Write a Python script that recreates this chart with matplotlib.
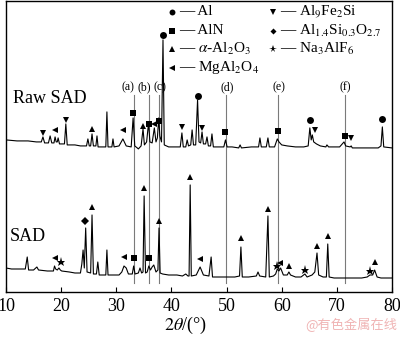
"""XRD patterns of raw SAD and SAD with phase markers."""
import matplotlib

matplotlib.use("Agg")
import matplotlib.pyplot as plt

plt.rcParams["font.family"] = ["Liberation Serif", "DejaVu Serif"]
plt.rcParams["mathtext.fontset"] = "stix"

# Raw SAD trace, read point by point (2theta, intensity in plot units)
raw_x = [10.0, 12.0, 14.0, 15.5, 16.4, 16.7, 17.0, 17.7, 18.0, 18.3, 18.7, 18.9, 19.1, 19.3, 19.45, 19.7,
         20.6, 20.85, 21.1, 22.5, 23.5, 24.6, 24.85, 25.1, 25.35, 25.6, 25.85, 26.3, 26.5, 26.7, 27.5,
         28.1, 28.3, 28.5, 29.2, 29.4, 29.6, 30.5, 31.2, 31.8, 32.7, 33.05, 33.35, 33.8, 34.0, 34.5,
         34.85, 35.1, 35.5, 35.85, 36.1, 36.5, 36.9, 37.2, 37.45, 37.7, 37.9, 38.2, 38.47, 38.7, 39.5,
         41.0, 41.6, 41.9, 42.15, 42.6, 42.85, 43.1, 43.5, 43.75, 44.0, 44.4, 44.74, 45.0, 45.3, 45.55,
         45.8, 46.2, 46.45, 46.7, 47.1, 47.35, 47.6, 48.5, 49.5, 49.8, 50.1, 51.0, 52.2, 52.45, 52.7,
         54.5, 55.8, 56.05, 56.3, 57.2, 57.5, 57.75, 58.7, 59.2, 59.5, 60.0, 61.0, 62.5, 64.0, 64.8,
         65.1, 65.35, 65.55, 65.8, 66.3, 67.0, 68.0, 68.2, 68.5, 70.5, 71.3, 71.6, 72.4, 72.6, 72.8,
         75.0, 77.5, 78.0, 78.25, 78.5, 80.0]
raw_y = [152, 151, 151, 150, 150, 155, 149, 149, 156, 149, 149, 155, 150, 150, 154, 148,
         148, 168, 147, 147, 146, 146, 153, 146, 146, 158, 146, 146, 156, 145, 145,
         145, 180, 145, 145, 153, 145, 146, 153, 146, 145, 174, 146, 144, 143, 146,
         163, 147, 150, 169, 150, 149, 164, 150, 154, 174, 156, 150, 252, 147, 145,
         145, 145, 159, 145, 145, 152, 146, 147, 162, 147, 147, 192, 150, 149, 160,
         148, 148, 155, 146, 146, 158, 145, 145, 145, 152, 145, 145, 144, 147, 144,
         145, 145, 154, 145, 145, 154, 145, 145, 153, 150, 147, 146, 145, 145, 146,
         164, 152, 157, 150, 148, 146, 145, 147, 145, 145, 150, 146, 145, 146, 144,
         144, 144, 146, 165, 145, 144]

# SAD trace
sad_x = [10.0, 11.0, 12.0, 13.5, 13.85, 14.1, 15.0, 15.6, 15.9, 17.5, 18.6, 18.8, 19.0, 19.3, 19.6,
         19.85, 20.1, 21.5, 22.5, 23.5, 23.75, 23.98, 24.2, 24.45, 24.7, 25.35, 25.6, 25.85, 26.4,
         26.65, 26.9, 27.8, 28.1, 28.3, 28.5, 29.5, 30.5, 31.0, 31.4, 31.8, 32.2, 32.9, 33.15, 33.4,
         34.0, 34.3, 34.6, 34.85, 35.05, 35.3, 35.6, 35.9, 36.2, 36.5, 36.8, 37.2, 37.55, 37.75, 37.95,
         38.4, 39.5, 41.0, 42.0, 42.6, 43.0, 43.2, 43.4, 43.6, 44.5, 45.2, 45.8, 46.8, 47.2, 47.45,
         49.0, 50.5, 51.5, 52.35, 52.6, 52.85, 54.0, 55.4, 55.7, 56.0, 57.1, 57.5, 57.75, 58.5, 58.9,
         59.2, 59.5, 59.8, 60.3, 61.0, 61.3, 61.6, 62.5, 63.5, 64.2, 64.6, 65.5, 66.0, 66.4, 66.7,
         67.5, 68.1, 68.35, 68.6, 69.5, 72.0, 74.5, 75.5, 76.0, 76.5, 76.85, 77.3, 78.0, 80.0]
sad_y = [24, 23, 23, 23, 35, 22, 22, 25, 22, 21, 21, 26, 23, 22, 24,
         22, 21, 20, 19, 19, 28, 42, 24, 64, 20, 19, 77, 18, 18,
         30, 17, 17, 17, 42, 17, 17, 17, 20, 26, 24, 18, 18, 26, 18,
         19, 24, 19, 20, 96, 19, 20, 26, 22, 25, 27, 20, 22, 64, 19,
         18, 17, 17, 16, 18, 16, 16, 107, 16, 17, 25, 17, 16, 35, 15,
         15, 15, 15, 16, 45, 15, 15, 16, 20, 16, 15, 76, 15, 16, 18,
         23, 21, 24, 17, 17, 20, 17, 15, 15, 18, 15, 17, 20, 39, 17,
         15, 15, 48, 15, 14, 14, 14, 15, 17, 17, 22, 15, 14, 14]

# phase markers: (2theta, height)
raw_al = [(38.47, 257), (44.74, 196), (65.1, 172), (78.25, 173)]
raw_aln = [(33.1, 179), (36.0, 168), (37.75, 171), (49.8, 160), (59.3, 161), (71.4, 156)]
raw_al2o3 = [(25.6, 163), (34.85, 166)]
raw_spinel = [(18.9, 162), (31.2, 162), (36.9, 168)]
raw_fe = [(16.7, 159), (20.85, 172), (41.9, 165), (45.55, 164), (66.1, 162), (72.6, 154)]

sad_al2o3 = [(25.6, 85), (35.05, 104), (37.75, 71), (43.4, 115), (52.6, 54), (57.5, 83),
             (61.3, 26), (66.4, 46), (68.4, 56), (76.9, 30)]
sad_aln = [(33.2, 34), (36.0, 34)]
sad_spinel = [(18.9, 34), (31.4, 35), (45.2, 33), (59.7, 29)]
sad_silicate = [(24.3, 71)]
sad_cryolite = [(20.0, 30), (59.1, 26), (64.2, 22), (76.0, 21)]

ref_lines = [33.2, 35.95, 37.7, 49.85, 59.3, 71.4]
ref_labels = ["(a)", "(b)", "(c)", "(d)", "(e)", "(f)"]
ref_label_x = [32.2, 35.1, 37.9, 50.1, 59.5, 71.5]

legend_left = [("o", "Al"), ("s", "AlN"), ("^", r"$\alpha$-Al$_2$O$_3$"), ("<", r"MgAl$_2$O$_4$")]
legend_right = [("v", r"Al$_9$Fe$_2$Si"), ("D", r"Al$_{1.4}$Si$_{0.3}$O$_{2.7}$"),
                ("*", r"Na$_3$AlF$_6$")]

MS = {"o": 5, "s": 4.5, "^": 5, "<": 5, "v": 5, "D": 3.6, "*": 6.5}

fig = plt.figure(figsize=(4.0, 3.37), dpi=100)
ax = fig.add_axes([0.015, 0.1335, 0.965, 0.864])
ax.set_xlim(10, 80)
ax.set_ylim(0, 291)

for x, lab, lx in zip(ref_lines, ref_labels, ref_label_x):
    ax.plot([x, x], [9, 197], color="#7a7a7a", lw=0.8, zorder=1)
    ax.text(lx, 205, lab, ha="center", va="center", fontsize=8.5, zorder=1)

ax.plot(raw_x, raw_y, color="black", lw=0.8, zorder=2)
ax.plot(sad_x, sad_y, color="black", lw=0.8, zorder=2)


def marks(points, m):
    xs = [p[0] for p in points]
    ys = [p[1] for p in points]
    ax.plot(xs, ys, ls="none", marker=m, ms=MS[m], color="black", mec="black", mew=0, zorder=3)


marks(raw_al, "o")
marks(raw_aln, "s")
marks(raw_al2o3, "^")
marks(raw_spinel, "<")
marks(raw_fe, "v")
marks(sad_al2o3, "^")
marks(sad_aln, "s")
marks(sad_spinel, "<")
marks(sad_silicate, "D")
marks(sad_cryolite, "*")

ax.text(11.3, 193, "Raw SAD", ha="left", va="center", fontsize=13)
ax.text(10.7, 55, "SAD", ha="left", va="center", fontsize=13)

# legend drawn by hand, two columns
rows_y = [280, 261, 243, 224]
for (m, lab), y in zip(legend_left, rows_y):
    ax.plot([40.1], [y], ls="none", marker=m, ms=MS[m] * 0.85, color="black", mew=0, clip_on=False)
    ax.text(41.4, y, "— " + lab, ha="left", va="center", fontsize=11)
for (m, lab), y in zip(legend_right, rows_y):
    ax.plot([58.4], [y], ls="none", marker=m, ms=MS[m] * 0.85, color="black", mew=0, clip_on=False)
    ax.text(59.6, y, "— " + lab, ha="left", va="center", fontsize=11)

ax.set_xticks(range(10, 81, 10))
ax.set_yticks([])
ax.tick_params(axis="x", direction="in", length=3.5, labelsize=13, pad=4)
for s in ax.spines.values():
    s.set_linewidth(1.0)

ax.text(42.5, -0.115, r"$\mathit{2\theta}$/(°)", transform=ax.get_xaxis_transform(),
        ha="center", va="center", fontsize=13)

fig.text(0.762, 0.035, "@有色金属在线", ha="left", va="center", fontsize=9.5, color="#f0b4b4",
         family=["Noto Sans CJK SC", "DejaVu Sans"])

fig.savefig("out.png", dpi=100)
